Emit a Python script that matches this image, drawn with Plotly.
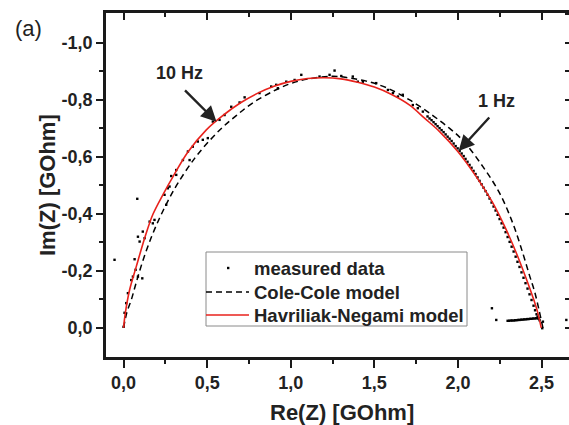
import plotly.graph_objects as go

# ---------------- data ----------------
meas_re = [0.000, 0.006, 0.016, 0.026, 0.046, 0.056, 0.086, 0.112, 0.072, 0.066,
           0.086, 0.096, 0.115, 0.126, 0.156, 0.175, 0.185, 0.082, -0.054, 0.245,
           0.255, 0.275, 0.265, 0.285, 0.315, 0.315, 0.355, 0.395, 0.385, 0.414,
           0.444, 0.474, 0.504, 0.534, 0.574, 0.604, 0.644, 0.694, 0.724, 0.813,
           0.883, 0.923, 0.913, 0.973, 1.023, 1.063, 1.172, 1.232, 1.262, 1.302,
           1.371, 1.401, 1.431, 1.511, 1.581, 1.611, 1.641, 1.670, 1.730, 1.760,
           1.790, 1.818, 1.830, 1.842, 1.854, 1.866, 1.878, 1.890, 1.902, 1.914,
           1.926, 1.938, 1.950, 1.962, 1.974, 1.986, 1.998, 2.010, 2.022, 2.034,
           2.045, 2.057, 2.069, 2.081, 2.093, 2.105, 2.117, 2.129, 2.141, 2.153,
           2.165, 2.177, 2.189, 2.201, 2.213, 2.225, 2.237, 2.249, 2.261, 2.273,
           2.285, 2.297, 2.309, 2.321, 2.333, 2.345, 2.356, 2.368, 2.380, 2.392,
           2.404, 2.416, 2.428, 2.440, 2.452, 2.461, 2.470, 2.476, 2.482, 2.488,
           2.297, 2.306, 2.315, 2.324, 2.333, 2.342, 2.350, 2.359, 2.368, 2.377,
           2.386, 2.395, 2.404, 2.413, 2.422, 2.431, 2.440, 2.449, 2.458, 2.467,
           2.476, 2.484, 2.203, 2.229, 2.508, 2.504, 2.648]
meas_im = [-0.004, -0.053, -0.087, -0.122, -0.168, -0.180, -0.180, -0.174, -0.204, -0.241,
           -0.320, -0.303, -0.338, -0.315, -0.373, -0.367, -0.379, -0.453, -0.239, -0.467,
           -0.432, -0.496, -0.490, -0.533, -0.554, -0.537, -0.589, -0.589, -0.619, -0.636,
           -0.654, -0.660, -0.666, -0.724, -0.730, -0.747, -0.776, -0.791, -0.809, -0.824,
           -0.847, -0.841, -0.853, -0.864, -0.870, -0.888, -0.882, -0.888, -0.903, -0.884,
           -0.882, -0.864, -0.864, -0.859, -0.835, -0.824, -0.812, -0.818, -0.782, -0.771,
           -0.759, -0.742, -0.735, -0.729, -0.722, -0.715, -0.708, -0.701, -0.694, -0.687,
           -0.679, -0.671, -0.664, -0.656, -0.647, -0.638, -0.630, -0.621, -0.612, -0.603,
           -0.593, -0.583, -0.572, -0.562, -0.551, -0.540, -0.528, -0.516, -0.504, -0.492,
           -0.480, -0.467, -0.454, -0.440, -0.426, -0.412, -0.397, -0.382, -0.367, -0.352,
           -0.336, -0.319, -0.302, -0.285, -0.268, -0.250, -0.232, -0.214, -0.195, -0.176,
           -0.157, -0.138, -0.118, -0.098, -0.078, -0.062, -0.048, -0.040, -0.033, -0.027,
           -0.025, -0.025, -0.026, -0.026, -0.026, -0.027, -0.027, -0.028, -0.028, -0.029,
           -0.029, -0.030, -0.030, -0.031, -0.031, -0.032, -0.032, -0.033, -0.033, -0.034,
           -0.034, -0.035, -0.069, -0.028, -0.022, 0.001, -0.028]

cc_re = [0.000, 0.020, 0.046, 0.076, 0.115, 0.166, 0.215, 0.265, 0.325, 0.425,
         0.514, 0.594, 0.674, 0.773, 0.893, 0.993, 1.100, 1.250, 1.350, 1.452,
         1.571, 1.711, 1.850, 1.950, 2.029, 2.149, 2.249, 2.328, 2.388, 2.430,
         2.458, 2.485, 2.508]
cc_im = [0.000, -0.055, -0.098, -0.160, -0.235, -0.318, -0.385, -0.445, -0.508, -0.595,
         -0.657, -0.705, -0.745, -0.790, -0.830, -0.856, -0.873, -0.883, -0.877, -0.866,
         -0.843, -0.800, -0.745, -0.700, -0.658, -0.566, -0.473, -0.367, -0.262, -0.180,
         -0.128, -0.062, 0.000]

hn_re = [0.000, 0.010, 0.036, 0.076, 0.126, 0.175, 0.235, 0.295, 0.385, 0.495,
         0.600, 0.700, 0.800, 0.900, 1.000, 1.100, 1.200, 1.300, 1.400, 1.500,
         1.600, 1.711, 1.800, 1.890, 1.999, 2.109, 2.209, 2.289, 2.358, 2.410,
         2.448, 2.475, 2.498]
hn_im = [0.000, -0.050, -0.133, -0.215, -0.315, -0.398, -0.467, -0.530, -0.617, -0.695,
         -0.748, -0.790, -0.823, -0.848, -0.865, -0.875, -0.878, -0.874, -0.862, -0.845,
         -0.820, -0.782, -0.736, -0.689, -0.619, -0.531, -0.438, -0.344, -0.250, -0.170,
         -0.108, -0.058, 0.000]

x_tick_vals = [0.0, 0.5, 1.0, 1.5, 2.0, 2.5]
x_tick_labels = ["0,0", "0,5", "1,0", "1,5", "2,0", "2,5"]
x_minor_vals = [0.25, 0.75, 1.25, 1.75, 2.25]
y_tick_vals = [-1.0, -0.8, -0.6, -0.4, -0.2, 0.0]
y_tick_labels = ["-1,0", "-0,8", "-0,6", "-0,4", "-0,2", "0,0"]
y_minor_vals = [-0.9, -0.7, -0.5, -0.3, -0.1]
y_right_vals = [-1.1, -1.0, -0.9, -0.8, -0.7, -0.6, -0.5, -0.4, -0.3, -0.2, -0.1, 0.0]

legend_labels = ["measured data", "Cole-Cole model", "Havriliak-Negami model"]

# ---------------- figure ----------------
W, H = 569, 425
L, R, T, B = 106, 0, 13, 68
PW, PH = W - L - R, H - T - B
XR = [-0.105, 2.664]
YR = [0.102, -1.105]
FONT = "Liberation Sans, Arial, sans-serif"
AX = "#1a1a1a"
RED = "#e8221c"
TXT = "#222"


def px(xpix):
    return (xpix - L) / PW


def py(ypix):
    return (H - B - ypix) / PH


fig = go.Figure()
fig.add_trace(go.Scatter(x=meas_re, y=meas_im, mode="markers", name=legend_labels[0],
                         marker=dict(symbol="square", size=2.4, color="black", line=dict(width=0))))
fig.add_trace(go.Scatter(x=cc_re, y=cc_im, mode="lines", name=legend_labels[1],
                         line=dict(color="black", width=1.5, dash="6px,4px", shape="spline", smoothing=1.0)))
fig.add_trace(go.Scatter(x=hn_re, y=hn_im, mode="lines", name=legend_labels[2],
                         line=dict(color=RED, width=1.6, shape="spline", smoothing=1.0)))
# empty traces so the top and right tick axes are drawn
fig.add_trace(go.Scatter(x=[None], y=[None], xaxis="x2", yaxis="y", showlegend=False, hoverinfo="skip"))
fig.add_trace(go.Scatter(x=[None], y=[None], xaxis="x", yaxis="y2", showlegend=False, hoverinfo="skip"))

tickfont = dict(family=FONT, size=18, color=TXT, weight="bold")

fig.update_layout(
    width=W, height=H, margin=dict(l=L, r=R, t=T, b=B),
    paper_bgcolor="white", plot_bgcolor="white",
    showlegend=False,
    xaxis=dict(range=XR, showgrid=False, zeroline=False, showline=True, linecolor=AX, linewidth=2.5,
               ticks="outside", ticklen=8, tickwidth=2, tickcolor=AX,
               tickmode="array", tickvals=x_tick_vals, ticktext=x_tick_labels, tickfont=tickfont,
               minor=dict(tickmode="array", tickvals=x_minor_vals, ticks="outside", ticklen=4, tickwidth=2, tickcolor=AX)),
    xaxis2=dict(range=XR, overlaying="x", side="top", anchor="y", showgrid=False, zeroline=False,
                showline=True, linecolor=AX, linewidth=2.5, showticklabels=False,
                ticks="inside", ticklen=7, tickwidth=2, tickcolor=AX,
                tickmode="array", tickvals=x_tick_vals,
                minor=dict(tickmode="array", tickvals=x_minor_vals, ticks="inside", ticklen=4, tickwidth=2, tickcolor=AX)),
    yaxis=dict(range=YR, showgrid=False, zeroline=False, showline=True, linecolor=AX, linewidth=2.5,
               ticks="outside", ticklen=7, tickwidth=2, tickcolor=AX,
               tickmode="array", tickvals=y_tick_vals, ticktext=y_tick_labels, tickfont=tickfont,
               minor=dict(tickmode="array", tickvals=y_minor_vals, ticks="outside", ticklen=4, tickwidth=2, tickcolor=AX)),
    yaxis2=dict(range=YR, overlaying="y", side="right", anchor="x", showgrid=False, zeroline=False,
                showline=False, showticklabels=False, ticks="inside", ticklen=4, tickwidth=2, tickcolor=AX,
                tickmode="array", tickvals=y_right_vals),
)

# ---- legend box (drawn by hand for the compact row spacing) ----
fig.add_shape(type="rect", xref="paper", yref="paper", x0=px(206), x1=px(467), y0=py(326), y1=py(252),
              line=dict(color="#8a8a8a", width=1), fillcolor="white", layer="above")
rows = [268, 292, 315]
fig.add_shape(type="rect", xref="paper", yref="paper", x0=px(227), x1=px(229.4), y0=py(269.2), y1=py(266.8),
              line=dict(width=0), fillcolor="black", layer="above")
fig.add_shape(type="line", xref="paper", yref="paper", x0=px(206), x1=px(249), y0=py(rows[1]), y1=py(rows[1]),
              line=dict(color="black", width=1.5, dash="6px,4px"), layer="above")
fig.add_shape(type="line", xref="paper", yref="paper", x0=px(206), x1=px(249), y0=py(rows[2]), y1=py(rows[2]),
              line=dict(color=RED, width=1.6), layer="above")
for lab, r in zip(legend_labels, rows):
    fig.add_annotation(text=lab, xref="paper", yref="paper", x=px(252), y=py(r),
                       xanchor="left", yanchor="middle", showarrow=False,
                       font=dict(family=FONT, size=18.5, color=TXT, weight="bold"))

# axis titles and panel label
fig.add_annotation(text="Re(Z) [GOhm]", xref="paper", yref="paper",
                   x=px(341.5), y=py(412), xanchor="center", yanchor="middle", showarrow=False,
                   font=dict(family=FONT, size=22, color=TXT, weight="bold"))
fig.add_annotation(text="Im(Z) [GOhm]", xref="paper", yref="paper",
                   x=px(47), y=0.5, textangle=-90, xanchor="center", yanchor="middle", showarrow=False,
                   font=dict(family=FONT, size=22, color=TXT, weight="bold"))
fig.add_annotation(text="(a)", xref="paper", yref="paper",
                   x=px(28), y=py(29), xanchor="center", yanchor="middle", showarrow=False,
                   font=dict(family=FONT, size=22, color=TXT))

# frequency markers
fig.add_annotation(text="10 Hz", x=0.332, y=-0.896, showarrow=False,
                   font=dict(family=FONT, size=18, color=TXT, weight="bold"))
fig.add_annotation(text="", x=0.556, y=-0.723, ax=-33, ay=-33, showarrow=True,
                   arrowhead=2, arrowsize=1.3, arrowwidth=2.4, arrowcolor=TXT, standoff=0)
fig.add_annotation(text="1 Hz", x=2.228, y=-0.795, showarrow=False,
                   font=dict(family=FONT, size=18, color=TXT, weight="bold"))
fig.add_annotation(text="", x=2.004, y=-0.621, ax=32, ay=-35, showarrow=True,
                   arrowhead=2, arrowsize=1.3, arrowwidth=2.4, arrowcolor=TXT, standoff=0)

fig.write_html("out.html")
